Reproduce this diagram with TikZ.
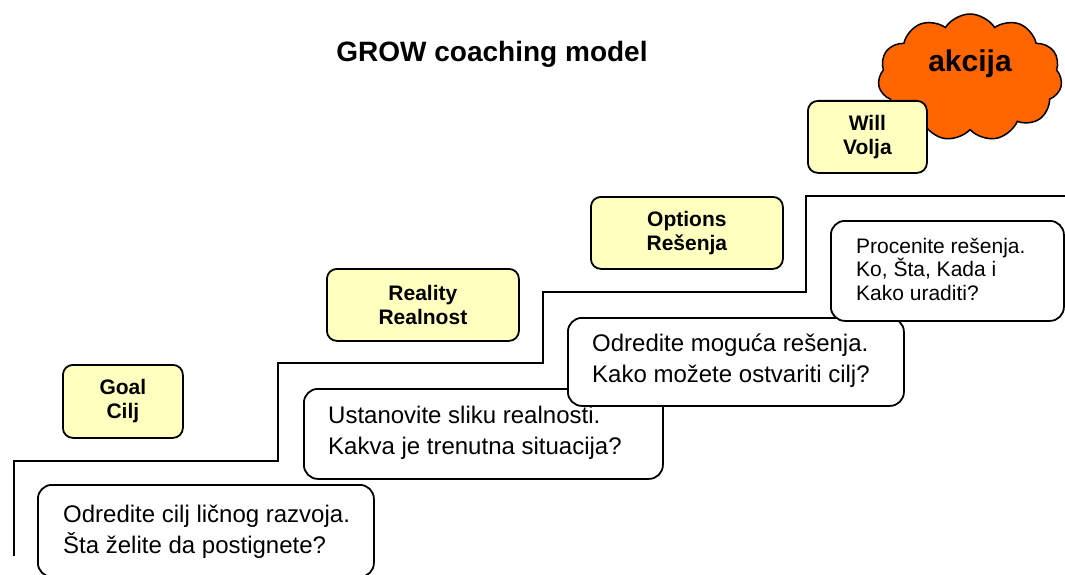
\documentclass[tikz,border=0pt]{standalone}
\usepackage{fontspec}
\setmainfont{Liberation Sans}
\usetikzlibrary{shapes.symbols,calc}
\definecolor{boxyellow}{HTML}{FFFFC0}
\definecolor{cloudorange}{HTML}{FF6600}
\begin{document}
\begin{tikzpicture}[x=1pt,y=-1pt,
  stage/.style={draw=black, line width=1.8pt, fill=boxyellow, rounded corners=10pt,
    font=\fontsize{21}{24}\selectfont\bfseries, align=center, inner sep=0pt, anchor=north west},
  note/.style={draw=black, line width=1.8pt, fill=white, rounded corners=14pt,
    inner sep=0pt, anchor=north west},
  notetext/.style={font=\fontsize{24}{31}\selectfont, align=left, inner sep=0pt, anchor=west},
  smalltext/.style={font=\fontsize{21}{23.5}\selectfont, align=left, inner sep=0pt, anchor=west},
  stair/.style={line width=1.8pt, line join=miter}]
\useasboundingbox (0,0) rectangle (1065,575);

% title
\node[font=\fontsize{28}{32}\selectfont\bfseries, inner sep=0pt, anchor=base] (title) at (492,61.7) {GROW coaching model};

% staircase
\draw[stair] (14,556) -- (14,461) -- (278,461) -- (278,363) -- (543,363) -- (543,292) -- (806,292) -- (806,196) -- (1066,196);

% cloud
\node[cloud, draw=black, fill=cloudorange, line width=1.5pt, cloud puffs=11, cloud puff arc=115,
  cloud ignores aspect, minimum width=184pt, minimum height=127pt, inner sep=0pt] (cloud) at (970,77.5) {};
\node[font=\fontsize{30}{34}\selectfont\bfseries, inner sep=0pt, anchor=base] (akcija) at (970,71.5) {akcija};

% stage boxes
\node[stage, minimum width=120pt, minimum height=73pt] (goal) at (62,364) {Goal\\Cilj};
\node[stage, minimum width=192pt, minimum height=72pt] (reality) at (326,268) {Reality\\Realnost};
\node[stage, minimum width=192pt, minimum height=72pt] (options) at (590,196) {Options\\Rešenja};
\node[stage, minimum width=119pt, minimum height=72pt] (will) at (807,100) {Will\\Volja};

% note boxes
\node[note, minimum width=336pt, minimum height=92pt] (n1) at (37,484) {};
\node[notetext] (t1) at (63,532) {Odredite cilj ličnog razvoja.\\Šta želite da postignete?};

\node[note, minimum width=359pt, minimum height=90pt] (n2) at (303,388) {};
\node[notetext] (t2) at (328,433) {Ustanovite sliku realnosti.\\Kakva je trenutna situacija?};

\node[note, minimum width=336pt, minimum height=88pt] (n3) at (567,317) {};
\node[notetext] (t3) at (592,361) {Odredite moguća rešenja.\\Kako možete ostvariti cilj?};

\node[note, minimum width=233pt, minimum height=100pt] (n4) at (830,220) {};
\node[smalltext] (t4) at (856,269) {Procenite rešenja.\\Ko, Šta, Kada i\\Kako uraditi?};
\end{tikzpicture}
\end{document}
